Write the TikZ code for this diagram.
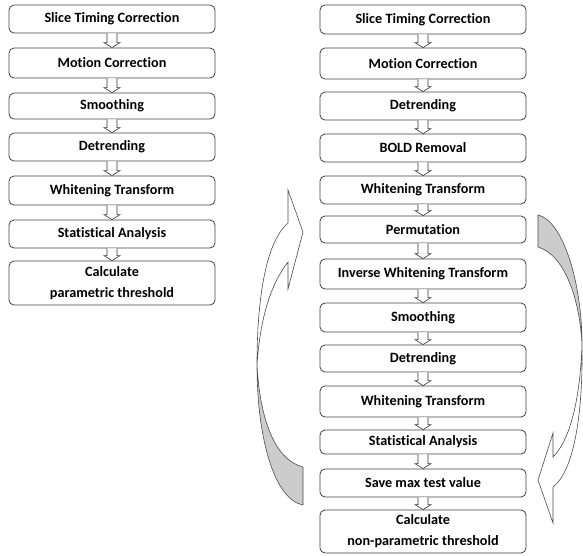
\documentclass[tikz,border=0pt]{standalone}
\usepackage{fontspec}
\setmainfont{Carlito}[Ligatures=NoCommon]
\usetikzlibrary{calc}

\begin{document}
\begin{tikzpicture}[x=1pt, y=-1pt, line width=0.8pt,
  stage/.style={draw=black!75, rounded corners=5pt, minimum width=206pt, inner sep=0pt, align=center, font=\fontsize{14.2}{21}\selectfont\bfseries},
  flow/.style={draw=black!80, fill=white, line width=0.6pt},
  bandback/.style={draw=black!70, fill=black!20, line width=0.6pt},
  bandfront/.style={draw=black!70, fill=white, line width=0.6pt}]
  \useasboundingbox (0,0) rectangle (583,555);
  \node[stage, minimum height=28pt] (sliceL) at (112,19) {Slice Timing Correction};
  \node[stage, minimum height=30pt] (motionL) at (112,63) {Motion Correction};
  \node[stage, minimum height=26pt] (smoothL) at (112,106) {Smoothing};
  \node[stage, minimum height=28pt] (detrendL) at (112,147) {Detrending};
  \node[stage, minimum height=29pt] (whitenL) at (112,190.5) {Whitening Transform};
  \node[stage, minimum height=28pt] (statL) at (112,234) {Statistical Analysis};
  \node[stage, minimum height=44pt] (threshL) at (112,283) {Calculate\\parametric threshold};
  \node[stage, minimum height=29pt] (sliceR) at (423,19.5) {Slice Timing Correction};
  \node[stage, minimum height=31pt] (motionR) at (423,63.5) {Motion Correction};
  \node[stage, minimum height=28pt] (detrendR) at (423,106) {Detrending};
  \node[stage, minimum height=28pt] (boldR) at (423,148) {BOLD Removal};
  \node[stage, minimum height=28pt] (whitenR) at (423,190) {Whitening Transform};
  \node[stage, minimum height=27pt] (permR) at (423,229.5) {Permutation};
  \node[stage, minimum height=30pt] (invR) at (423,274) {Inverse Whitening Transform};
  \node[stage, minimum height=29pt] (smoothR) at (423,317.5) {Smoothing};
  \node[stage, minimum height=27pt] (detrendRR) at (423,358.5) {Detrending};
  \node[stage, minimum height=31pt] (whitenRR) at (423,401.5) {Whitening Transform};
  \node[stage, minimum height=24pt] (statR) at (423,442) {Statistical Analysis};
  \node[stage, minimum height=28pt] (maxR) at (423,483) {Save max test value};
  \node[stage, minimum height=43pt] (threshR) at (423,531.5) {Calculate\\non-parametric threshold};
  \foreach \a/\b in {sliceL/motionL, motionL/smoothL, smoothL/detrendL, detrendL/whitenL, whitenL/statL, statL/threshL,
      sliceR/motionR, motionR/detrendR, detrendR/boldR, boldR/whitenR, whitenR/permR, permR/invR, invR/smoothR,
      smoothR/detrendRR, detrendRR/whitenRR, whitenRR/statR, statR/maxR, maxR/threshR}
    \path[flow] let \p1=(\a.south), \p2=(\b.north) in (\x1-5pt,\y1) -- (\x1-5pt,\y2+5pt) -- (\x1-8pt,\y2+5pt)
      -- (\x1,\y2) -- (\x1+8pt,\y2+5pt) -- (\x1+5pt,\y2+5pt) -- (\x1+5pt,\y1);
  \path[bandback] (303,467) .. controls (275,460) and (260,420) .. (257,365) .. controls (257,440) and (275,500) .. (303,505) -- cycle;
  \path[bandfront] (257,365) .. controls (257,290) and (268,240) .. (288,223) -- (288,190) -- (303,232) -- (288,289) -- (288,262)
    .. controls (270,285) and (260,320) .. (257,365) -- cycle;
  \path[bandback] (538,215) .. controls (562,220) and (582,280) .. (582,345) .. controls (580,300) and (565,255) .. (538,247) -- cycle;
  \path[bandfront] (582,345) .. controls (583,410) and (575,470) .. (553,487) -- (553,523) -- (538,480) -- (553,433) -- (553,457)
    .. controls (570,440) and (580,400) .. (582,345) -- cycle;
\end{tikzpicture}
\end{document}
